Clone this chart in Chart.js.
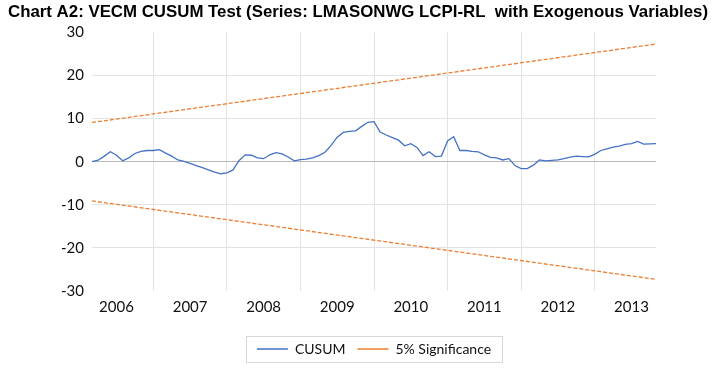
<!DOCTYPE html>
<html lang="en">
<head>
  <meta charset="UTF-8">
  <title>Chart A2: VECM CUSUM Test</title>
  <script src="https://cdn.jsdelivr.net/npm/chart.js"></script>
  <style>
    body { margin: 0; background: #fff; }
    #wrap { width: 719px; height: 378px; }
  </style>
</head>
<body>
  <div id="wrap"><canvas id="cusumChart"></canvas></div>

  <script>
    // Monthly CUSUM values, March 2006 to November 2013
    const startYear = 2006;
    const startMonth = 3;
    const cusum = [
      0, 0.35, 1.3, 2.3, 1.5, 0.2, 0.9, 1.9, 2.4, 2.6,
      2.6, 2.8, 2.0, 1.3, 0.4, 0.05, -0.4, -0.9, -1.4, -1.9,
      -2.4, -2.8, -2.6, -1.9, 0.3, 1.6, 1.5, 0.9, 0.7, 1.6,
      2.1, 1.8, 1.1, 0.2, 0.5, 0.6, 0.9, 1.4, 2.2, 3.8,
      5.7, 6.8, 7.05, 7.15, 8.2, 9.15, 9.3, 6.9, 6.2, 5.6,
      5.0, 3.7, 4.2, 3.3, 1.4, 2.3, 1.2, 1.3, 4.8, 5.8,
      2.6, 2.6, 2.4, 2.3, 1.6, 1.0, 0.9, 0.4, 0.7, -0.9,
      -1.6, -1.6, -0.8, 0.4, 0.2, 0.3, 0.4, 0.7, 1.05, 1.3,
      1.2, 1.1, 1.7, 2.6, 3.0, 3.4, 3.6, 4.0, 4.2, 4.7,
      4.1, 4.15, 4.2
    ];
    // 5% significance bounds at first and last month
    const sigUpper = [9.1, 27.3];
    const sigLower = [-9.1, -27.3];
    const years = [2006, 2007, 2008, 2009, 2010, 2011, 2012, 2013];
    const yTicks = [-30, -20, -10, 0, 10, 20, 30];

    const dates = cusum.map((v, i) => startYear + (startMonth - 1 + i) / 12);
    const xMin = dates[0];
    const xMax = dates[dates.length - 1];

    const font = "Lato, 'Open Sans', sans-serif";

    // center legend under the plot and draw a box round it, like the Excel one
    const legendBox = {
      id: 'legendBox',
      afterLayout(chart) {
        const lg = chart.legend;
        lg.left = chart.chartArea.left;
        lg.right = chart.chartArea.right;
        lg.width = lg.right - lg.left;
      },
      afterDraw(chart) {
        const boxes = chart.legend.legendHitBoxes;
        if (!boxes || !boxes.length) return;
        let l = Infinity, r = -Infinity, t = Infinity, b = -Infinity;
        boxes.forEach(h => {
          l = Math.min(l, h.left); r = Math.max(r, h.left + h.width);
          t = Math.min(t, h.top); b = Math.max(b, h.top + h.height);
        });
        const ctx = chart.ctx;
        ctx.save();
        ctx.strokeStyle = '#d9d9d9';
        ctx.lineWidth = 1;
        ctx.strokeRect(Math.round(l - 11) + 0.5, Math.round(t - 6) + 0.5, Math.round(r - l + 22), Math.round(b - t + 12));
        ctx.restore();
      }
    };

    const ctx = document.getElementById('cusumChart').getContext('2d');
    new Chart(ctx, {
      type: 'line',
      data: {
        datasets: [
          {
            label: 'CUSUM',
            data: cusum.map((v, i) => ({ x: dates[i], y: v })),
            borderColor: '#4472c4',
            backgroundColor: '#4472c4',
            borderWidth: 1.3,
            pointRadius: 0,
            tension: 0
          },
          {
            label: '5% Significance',
            data: [{ x: xMin, y: sigUpper[0] }, { x: xMax, y: sigUpper[1] }],
            borderColor: '#ed7d31',
            backgroundColor: '#ed7d31',
            borderWidth: 1.3,
            borderDash: [4, 2],
            pointRadius: 0
          },
          {
            label: '',
            data: [{ x: xMin, y: sigLower[0] }, { x: xMax, y: sigLower[1] }],
            borderColor: '#ed7d31',
            backgroundColor: '#ed7d31',
            borderWidth: 1.3,
            borderDash: [4, 2],
            pointRadius: 0
          }
        ]
      },
      options: {
        responsive: true,
        maintainAspectRatio: false,
        animation: false,
        layout: { padding: { left: 8, right: 11, top: 0, bottom: 12 } },
        scales: {
          x: {
            type: 'linear',
            min: xMin,
            max: xMax,
            border: { display: false },
            grid: { color: '#e3e3e3', drawTicks: false },
            ticks: { display: false },
            afterBuildTicks(scale) {
              scale.ticks = years.slice(1).map(y => ({ value: y }));
            },
            afterFit(scale) { scale.height = 0; }
          },
          xLabels: {
            type: 'linear',
            position: 'bottom',
            min: xMin,
            max: xMax,
            border: { display: false },
            grid: { display: false, drawTicks: false },
            ticks: {
              autoSkip: false,
              maxRotation: 0,
              padding: 7,
              color: '#111',
              font: { family: font, size: 15 },
              callback: v => String(Math.floor(v))
            },
            afterBuildTicks(scale) {
              scale.ticks = years.map(y => ({ value: y + 0.5 }));
            },
            afterFit(scale) { scale.height = 39; }
          },
          y: {
            min: -30,
            max: 30,
            border: { display: false },
            grid: {
              drawTicks: false,
              color: c => c.tick.value === 0 ? '#b8b8b8' : (Math.abs(c.tick.value) === 30 ? 'rgba(0,0,0,0)' : '#e3e3e3')
            },
            ticks: {
              padding: 8,
              color: '#111',
              font: { family: font, size: 15 }
            },
            afterBuildTicks(scale) {
              scale.ticks = yTicks.map(v => ({ value: v }));
            },
            afterFit(scale) { scale.width = 84; }
          },
          // empty right margin so the title can run wider than the plot
          spacer: {
            type: 'linear',
            position: 'right',
            border: { display: false },
            grid: { display: false, drawTicks: false },
            ticks: { display: false },
            afterFit(scale) { scale.width = 52; }
          }
        },
        plugins: {
          title: {
            display: true,
            text: 'Chart A2: VECM CUSUM Test (Series: LMASONWG LCPI-RL  with Exogenous Variables)',
            align: 'start',
            color: '#000',
            font: { family: "'Liberation Sans', Arial, sans-serif", size: 17, weight: 'bold' },
            padding: { top: 2, bottom: 10 }
          },
          legend: {
            position: 'bottom',
            labels: {
              filter: item => item.text !== '',
              boxWidth: 31,
              boxHeight: 0,
              padding: 12,
              color: '#111',
              font: { family: font, size: 14 }
            }
          },
          tooltip: { enabled: false }
        }
      },
      plugins: [legendBox]
    });
  </script>
</body>
</html>
